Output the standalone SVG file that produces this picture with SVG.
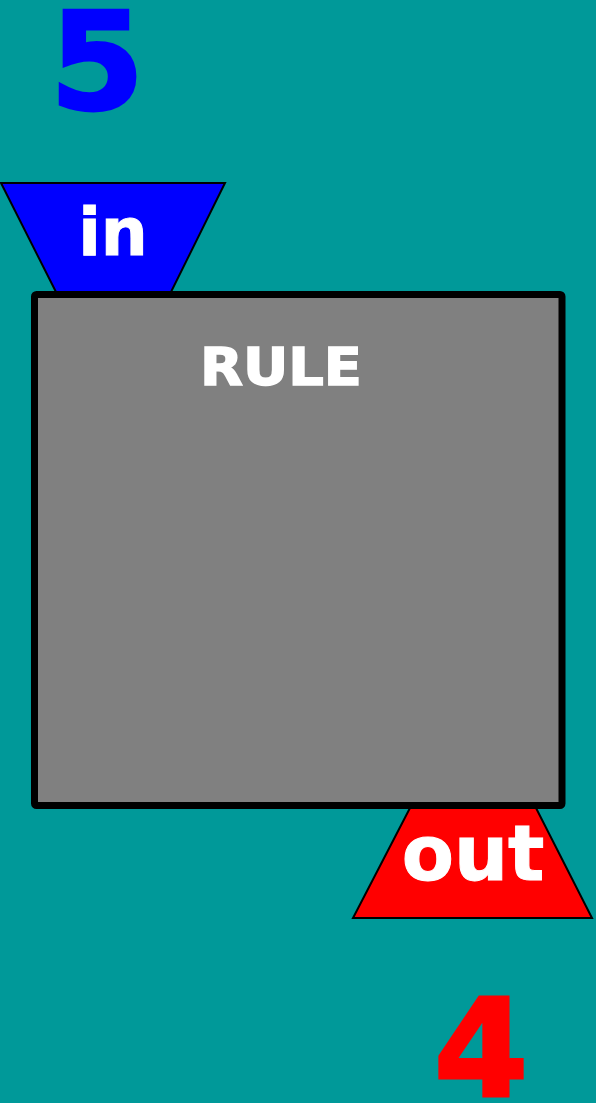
<svg xmlns="http://www.w3.org/2000/svg" width="596" height="1103" viewBox="0 0 596 1103">
<style>
.t{font-family:"DejaVu Sans",Verdana,sans-serif;font-weight:bold;text-anchor:middle}
.port{stroke:#000;stroke-width:2;stroke-linejoin:miter}
</style>
<rect x="0" y="0" width="596" height="1103" fill="#009999"/>
<g id="count-in"><text class="t" x="97" y="109" font-size="136" fill="#0000FF" stroke="#0000FF" stroke-width="3">5</text></g>
<g id="count-out"><text class="t" x="481" y="1096" font-size="136" fill="#FF0000" stroke="#FF0000" stroke-width="3">4</text></g>
<g id="port-in">
<polygon class="port" points="1,183 225,183 170,294 57,294" fill="#0000FF"/>
<text class="t" x="113" y="255" font-size="66" fill="#FFFFFF" stroke="#FFFFFF" stroke-width="1">in</text>
</g>
<g id="port-out">
<polygon class="port" points="411,806 535,806 592,918 353,918" fill="#FF0000"/>
<text class="t" x="473" y="880" font-size="76" fill="#FFFFFF" stroke="#FFFFFF" stroke-width="1">out</text>
</g>
<g id="rule">
<rect x="34.5" y="294.5" width="527.5" height="511" rx="2" fill="#808080" stroke="#000" stroke-width="7"/>
<text class="t" x="281" y="385" font-size="52" fill="#FFFFFF" stroke="#FFFFFF" stroke-width="1.5" textLength="162" lengthAdjust="spacingAndGlyphs">RULE</text>
</g>
<g id="connectors"/>
</svg>
